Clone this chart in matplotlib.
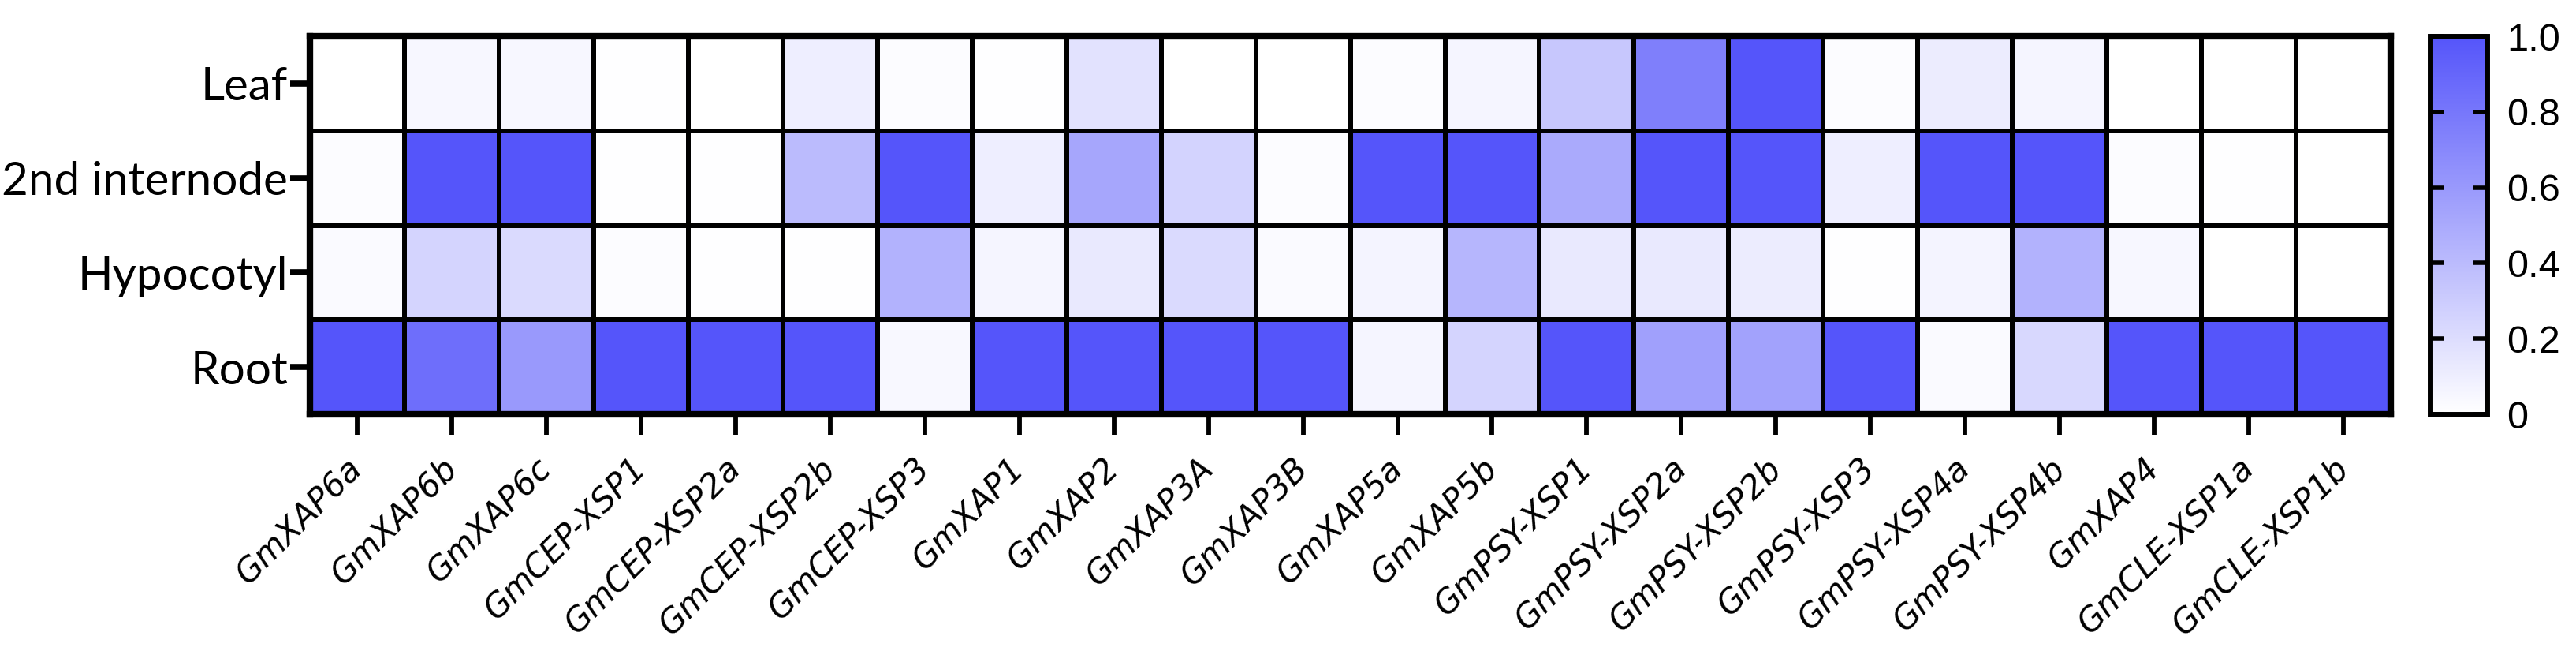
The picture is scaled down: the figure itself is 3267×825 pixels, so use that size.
import numpy as np
import matplotlib
matplotlib.use("Agg")
import matplotlib.pyplot as plt
from matplotlib.colors import LinearSegmentedColormap

genes = ['GmXAP6a', 'GmXAP6b', 'GmXAP6c', 'GmCEP-XSP1', 'GmCEP-XSP2a',
         'GmCEP-XSP2b', 'GmCEP-XSP3', 'GmXAP1', 'GmXAP2', 'GmXAP3A',
         'GmXAP3B', 'GmXAP5a', 'GmXAP5b', 'GmPSY-XSP1', 'GmPSY-XSP2a',
         'GmPSY-XSP2b', 'GmPSY-XSP3', 'GmPSY-XSP4a', 'GmPSY-XSP4b',
         'GmXAP4', 'GmCLE-XSP1a', 'GmCLE-XSP1b']
tissues = ['Leaf', '2nd internode', 'Hypocotyl', 'Root']

leaf = [0.0, 0.05, 0.05, 0.01, 0.0, 0.10, 0.02, 0.01, 0.17, 0.0, 0.0,
        0.02, 0.06, 0.33, 0.75, 1.0, 0.02, 0.11, 0.06, 0.0, 0.0, 0.0]
internode = [0.02, 1.0, 1.0, 0.01, 0.01, 0.40, 1.0, 0.10, 0.52, 0.26, 0.02,
             1.0, 1.0, 0.50, 1.0, 1.0, 0.10, 1.0, 1.0, 0.02, 0.01, 0.0]
hypocotyl = [0.03, 0.25, 0.22, 0.02, 0.01, 0.01, 0.45, 0.06, 0.13, 0.22, 0.03,
             0.07, 0.43, 0.13, 0.13, 0.11, 0.01, 0.07, 0.45, 0.05, 0.0, 0.0]
root = [1.0, 0.85, 0.60, 1.0, 1.0, 1.0, 0.04, 1.0, 1.0, 1.0, 1.0,
        0.06, 0.25, 1.0, 0.56, 0.55, 1.0, 0.03, 0.23, 1.0, 1.0, 1.0]

data = np.array([leaf, internode, hypocotyl, root])

cmap = LinearSegmentedColormap.from_list('wb', ['#FFFFFF', '#5555FA'])

fig = plt.figure(figsize=(32.67, 8.25), dpi=100)
ax = fig.add_axes([0.1203, 0.3636, 0.8078, 0.5806])
cax = fig.add_axes([0.9434, 0.3636, 0.0220, 0.5806])

mesh = ax.pcolormesh(data, cmap=cmap, vmin=0, vmax=1,
                     edgecolors='black', linewidth=3.2)
ax.set_xlim(0, len(genes))
ax.set_ylim(len(tissues), 0)

ax.set_xticks(np.arange(len(genes)) + 0.5)
ax.set_xticklabels(genes, rotation=45, ha='right', va='center',
                   rotation_mode='anchor')
for lab in ax.get_xticklabels():
    lab.set_fontfamily('DejaVu Sans')
    lab.set_fontstyle('oblique')
    lab.set_fontsize(30)
ax.set_yticks(np.arange(len(tissues)) + 0.5)
ax.set_yticklabels(tissues)
for lab in ax.get_yticklabels():
    lab.set_fontfamily('Lato')
    lab.set_fontsize(42)
ax.tick_params(axis='x', length=19, width=4.2, pad=26)
ax.tick_params(axis='y', length=18, width=5.5, pad=2)
for s in ax.spines.values():
    s.set_linewidth(6)

cb = fig.colorbar(mesh, cax=cax)
cb.set_ticks([0, 0.2, 0.4, 0.6, 0.8, 1.0])
cb.set_ticklabels(['0', '0.2', '0.4', '0.6', '0.8', '1.0'])
cax.tick_params(direction='in', left=True, right=True, length=12, width=4,
                pad=18)
for lab in cax.get_yticklabels():
    lab.set_fontfamily('Liberation Sans')
    lab.set_fontsize(35)
cb.outline.set_linewidth(5)

fig.savefig('out.png', dpi=100)
